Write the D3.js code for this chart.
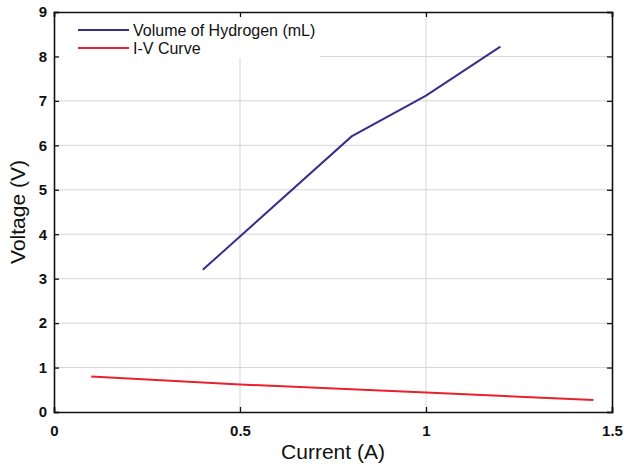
<!DOCTYPE html>
<html>
<head>
<meta charset="utf-8">
<script src="https://cdn.jsdelivr.net/npm/d3@7"></script>
<style>
  body { margin: 0; background: #fff; }
  svg { font-family: "Liberation Sans", Arial, sans-serif; }
</style>
</head>
<body>
<div id="chart"></div>
<script>
// data
const hydrogenCurrent = [0.4, 0.8, 1.0, 1.2];
const hydrogenVolume = [3.2, 6.2, 7.12, 8.22];
const ivCurrent = [0.1, 0.5, 1.0, 1.45];
const ivVoltage = [0.8, 0.62, 0.44, 0.27];
const xTicks = [0, 0.5, 1, 1.5];
const yTicks = [0, 1, 2, 3, 4, 5, 6, 7, 8, 9];
const seriesNames = ["Volume of Hydrogen (mL)", "I-V Curve"];
const seriesColors = ["#3b2d8a", "#e8212c"];

const width = 624, height = 464;
const margin = {top: 12, right: 12, bottom: 52, left: 54};
const w = width - margin.left - margin.right,
      h = height - margin.top - margin.bottom;

const svg = d3.select("#chart").append("svg")
    .attr("width", width)
    .attr("height", height);

const g = svg.append("g")
    .attr("transform", "translate(" + margin.left + "," + margin.top + ")");

const x = d3.scaleLinear().domain([0, 1.5]).range([0, w]);
const y = d3.scaleLinear().domain([0, 9]).range([h, 0]);

// grid
g.append("g").selectAll("line.gx")
    .data(xTicks.slice(1, -1))
  .enter().append("line")
    .attr("x1", d => x(d)).attr("x2", d => x(d))
    .attr("y1", 0).attr("y2", h)
    .attr("stroke", "#d6d6d6").attr("stroke-width", 1);

g.append("g").selectAll("line.gy")
    .data(yTicks.slice(1, -1))
  .enter().append("line")
    .attr("x1", 0).attr("x2", w)
    .attr("y1", d => y(d)).attr("y2", d => y(d))
    .attr("stroke", "#d6d6d6").attr("stroke-width", 1);

// legend background hides the grid behind it
g.append("rect")
    .attr("x", 1).attr("y", 1)
    .attr("width", 265).attr("height", 45)
    .attr("fill", "#fff");

// axes, ticks pointing inward, mirrored on top/right
const tickLen = 5;
const xAxis = d3.axisBottom(x).tickValues(xTicks).tickFormat(d3.format("")).tickSize(-tickLen).tickPadding(13);
const yAxis = d3.axisLeft(y).tickValues(yTicks).tickFormat(d3.format("d")).tickSize(-tickLen).tickPadding(7);

g.append("g").attr("transform", "translate(0," + h + ")").call(xAxis);
g.append("g").call(yAxis);
g.append("g").call(d3.axisTop(x).tickValues(xTicks).tickFormat("").tickSize(-tickLen));
g.append("g").attr("transform", "translate(" + w + ",0)")
    .call(d3.axisRight(y).tickValues(yTicks).tickFormat("").tickSize(-tickLen));

g.selectAll(".domain").attr("stroke", "#111").attr("stroke-width", 1.6);
g.selectAll(".tick line").attr("stroke", "#111").attr("stroke-width", 1.3);
g.selectAll(".tick text")
    .attr("fill", "#111")
    .style("font-size", "15px")
    .style("font-weight", "bold")
    .style("font-family", "'Liberation Sans', Arial, sans-serif");

// lines
const line = d3.line().x(d => x(d[0])).y(d => y(d[1]));

g.append("path")
    .datum(d3.zip(hydrogenCurrent, hydrogenVolume))
    .attr("d", line)
    .attr("fill", "none")
    .attr("stroke", seriesColors[0])
    .attr("stroke-width", 2);

g.append("path")
    .datum(d3.zip(ivCurrent, ivVoltage))
    .attr("d", line)
    .attr("fill", "none")
    .attr("stroke", seriesColors[1])
    .attr("stroke-width", 2);

// legend
const legend = g.append("g").attr("transform", "translate(24,18)");
seriesNames.forEach(function(name, i) {
  const row = legend.append("g").attr("transform", "translate(0," + (i * 18) + ")");
  row.append("line")
      .attr("x1", 0).attr("x2", 51)
      .attr("stroke", seriesColors[i])
      .attr("stroke-width", 2);
  row.append("text")
      .attr("x", 55).attr("dy", "0.35em")
      .style("font-size", "16px")
      .attr("fill", "#111")
      .text(name);
});

// axis labels
svg.append("text")
    .attr("x", margin.left + w / 2)
    .attr("y", 459)
    .attr("text-anchor", "middle")
    .style("font-size", "21px")
    .attr("fill", "#111")
    .text("Current (A)");

svg.append("text")
    .attr("transform", "translate(25," + (margin.top + h / 2) + ") rotate(-90)")
    .attr("text-anchor", "middle")
    .style("font-size", "21px")
    .attr("fill", "#111")
    .text("Voltage (V)");
</script>
</body>
</html>
